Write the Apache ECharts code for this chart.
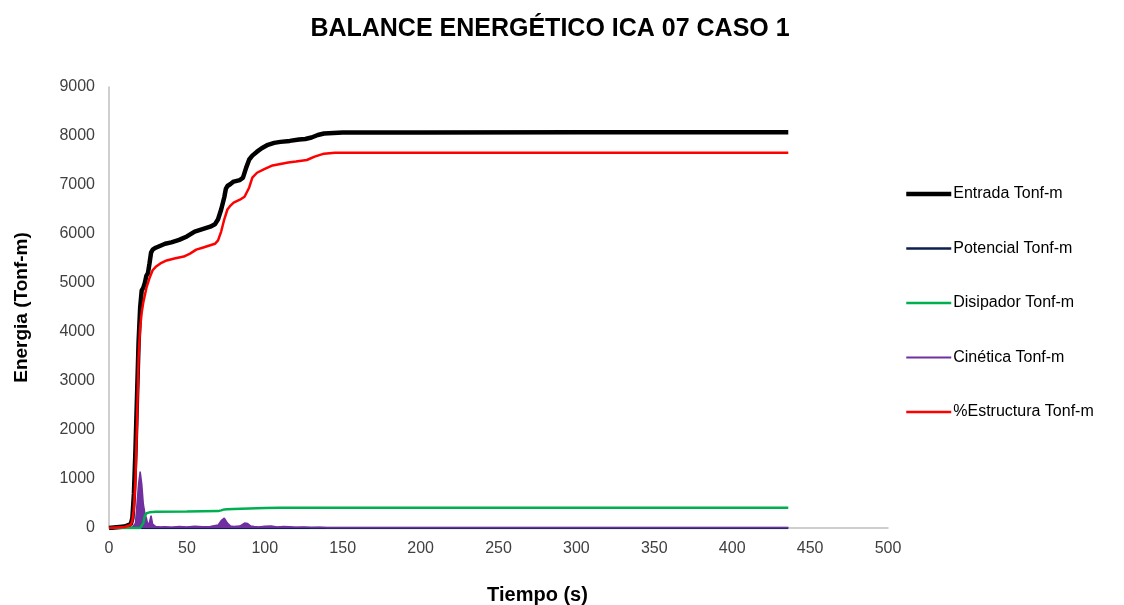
<!DOCTYPE html>
<html><head><meta charset="utf-8">
<script src="https://cdn.jsdelivr.net/npm/echarts@6/dist/echarts.min.js"></script>
<style>html,body{margin:0;padding:0;background:#fff}#c{width:1124px;height:605px}</style>
</head><body><div id="c"></div>
<script>
const titleText = 'BALANCE ENERGÉTICO ICA 07 CASO 1';
const seriesNames = ['Entrada Tonf-m','Potencial Tonf-m','Disipador Tonf-m','Cinética Tonf-m','%Estructura Tonf-m'];

const entradaT = [0,10,14,15,16,17,18,19,20,21,22,23,24,25,26,27,28,30,33,36,40,45,50,55,60,65,68,70,72,74,75,76,78,80,84,86,88,90,92,95,98,102,106,110,116,122,126,130,134,138,144,150,170,200,300,436];
const entradaV = [0,30,80,200,700,1600,2700,3800,4500,4850,4900,5000,5150,5200,5400,5620,5680,5720,5760,5800,5830,5880,5950,6050,6100,6150,6200,6300,6500,6750,6920,6980,7020,7070,7100,7150,7350,7520,7600,7680,7750,7820,7860,7880,7900,7930,7940,7970,8020,8050,8060,8070,8070,8070,8075,8075];

const potencialT = [0,436];
const potencialV = [0,0];

const disipadorT = [0,20,22,23,24,26,30,50,70,72,74,76,80,90,95,100,110,436];
const disipadorV = [0,0,100,250,300,320,330,335,345,360,380,385,390,400,405,410,415,415];

const cineticaT = [0,10,15,17,18,19,20,21,22,23,24,25,26,27,28,29,30,33,36,40,45,50,55,60,65,70,72,74,75,76,78,80,84,87,88,89,91,93,96,100,104,108,112,116,120,125,130,135,140,150,200,300,436];
const cineticaV = [0,0,10,100,500,900,1150,900,500,300,200,60,120,250,80,40,30,20,25,15,30,20,35,25,30,60,150,200,180,100,40,30,40,100,130,90,40,30,20,35,40,20,30,25,15,20,10,15,5,5,3,3,3];

const estructuraT = [0,10,14,15,16,17,18,19,20,21,22,24,26,28,30,33,37,42,48,52,56,60,64,68,70,72,74,76,78,80,84,87,90,92,95,100,105,110,115,120,127,132,138,145,160,200,300,436];
const estructuraV = [0,20,60,150,400,1000,2200,3500,4100,4400,4600,4900,5100,5260,5330,5400,5460,5500,5540,5600,5680,5720,5760,5800,5870,6050,6300,6500,6580,6640,6700,6760,6950,7150,7250,7330,7400,7430,7460,7480,7510,7580,7640,7660,7660,7660,7660,7660];

const pairs = (t, v) => t.map((x, i) => [x, v[i]]);
const font = 'Liberation Sans, Arial, sans-serif';
const colors = ['#000000', '#0d1f4f', '#00b050', '#7030a0', '#ff0000'];
const widths = [4.5, 2.5, 2.5, 2, 2.5];

const chart = echarts.init(document.getElementById('c'));
chart.setOption({
  animation: false,
  backgroundColor: '#fff',
  title: {
    text: titleText, left: 545, top: 12, textAlign: 'center',
    textStyle: {fontFamily: font, fontSize: 25, fontWeight: 'bold', color: '#000'}
  },
  legend: {
    orient: 'vertical', left: 904, top: 186, itemWidth: 45, itemHeight: 16, itemGap: 38.5, padding: 0,
    itemStyle: {opacity: 0},
    textStyle: {fontFamily: font, fontSize: 16, color: '#000', padding: [0,0,0,-3]},
    data: seriesNames.map((n, i) => ({name: n, lineStyle: {color: colors[i], width: widths[i]}}))
  },
  grid: {left: 109, right: 236, top: 87, bottom: 77, containLabel: false, outerBoundsMode: 'none'},
  xAxis: {
    type: 'value', min: 0, max: 500, interval: 50,
    name: 'Tiempo (s)', nameLocation: 'middle', nameGap: 57,
    nameTextStyle: {fontFamily: font, fontSize: 20, fontWeight: 'bold', color: '#000', padding: [0,0,0,78]},
    axisLine: {lineStyle: {color: '#bfbfbf', width: 1.5}},
    axisTick: {show: false},
    splitLine: {show: false},
    axisLabel: {fontFamily: font, fontSize: 16, color: '#404040', margin: 13, formatter: v => String(v)}
  },
  yAxis: {
    type: 'value', min: 0, max: 9000, interval: 1000,
    name: 'Energia (Tonf-m)', nameLocation: 'middle', nameGap: 78, nameRotate: 90,
    nameTextStyle: {fontFamily: font, fontSize: 19, fontWeight: 'bold', color: '#000'},
    axisLine: {show: true, lineStyle: {color: '#bfbfbf', width: 1.5}},
    axisTick: {show: false},
    splitLine: {show: false},
    axisLabel: {fontFamily: font, fontSize: 16, color: '#404040', margin: 14, formatter: v => String(v)}
  },
  series: [
    {name: seriesNames[0], type: 'line', symbol: 'none', data: pairs(entradaT, entradaV),
     lineStyle: {color: colors[0], width: widths[0]}, itemStyle: {color: colors[0]}, z: 2},
    {name: seriesNames[1], type: 'line', symbol: 'none', data: pairs(potencialT, potencialV),
     lineStyle: {color: colors[1], width: widths[1]}, itemStyle: {color: colors[1]}, z: 2},
    {name: seriesNames[2], type: 'line', symbol: 'none', data: pairs(disipadorT, disipadorV),
     lineStyle: {color: colors[2], width: widths[2]}, itemStyle: {color: colors[2]}, z: 4},
    {name: seriesNames[3], type: 'line', symbol: 'none', data: pairs(cineticaT, cineticaV),
     lineStyle: {color: colors[3], width: 1.5}, itemStyle: {color: colors[3]},
     areaStyle: {color: colors[3], opacity: 1}, z: 3},
    {name: seriesNames[4], type: 'line', symbol: 'none', data: pairs(estructuraT, estructuraV),
     lineStyle: {color: colors[4], width: widths[4]}, itemStyle: {color: colors[4]}, z: 5}
  ]
});
</script></body></html>
